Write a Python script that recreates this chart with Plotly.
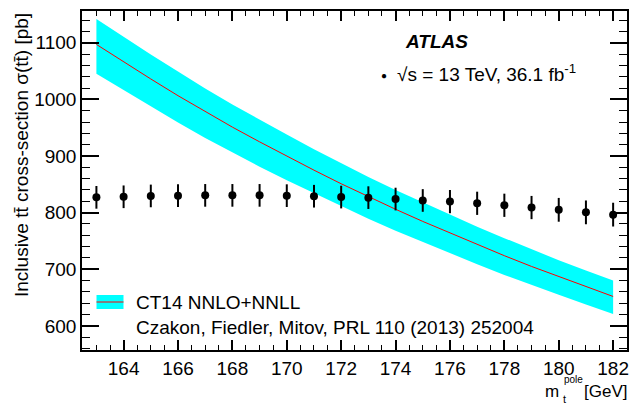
import plotly.graph_objects as go

# top-quark pole mass points (GeV)
mass = [163, 164, 165, 166, 167, 168, 169, 170, 171, 172,
        173, 174, 175, 176, 177, 178, 179, 180, 181, 182]

# CT14 NNLO+NNLL prediction (pb): central, upper and lower edge of band
theo_central = [1097, 1066, 1036, 1006.5, 978, 951, 925, 899.5, 875, 851,
                828, 806, 784.5, 764, 743.5, 724, 705, 687, 669, 652]
theo_upper = [1142, 1110, 1079, 1049, 1019, 991, 964, 938, 912, 887,
              863, 840, 818, 796, 775, 755, 735, 716, 698, 680]
theo_lower = [1045, 1016, 987, 959, 932, 906, 881, 857, 834, 811,
              789, 768, 748, 728, 709, 690, 672, 655, 638, 621]

# measured cross-section vs assumed mass (pb) and total uncertainty
meas = [827, 828, 829.5, 830, 830.5, 830.5, 830.5, 830, 829, 827.5,
        826.5, 824, 821.5, 819.5, 816.5, 813, 809, 805, 800.5, 796.5]
meas_err = [20, 20, 20, 20, 20, 20, 20, 20, 20, 20,
            20, 20, 20, 20.5, 20.5, 20.5, 20.5, 21, 21, 21]

FONT = "Liberation Sans, Arial, Helvetica, sans-serif"
FS = 19
W, H = 629, 412
X0, X1, Y0, Y1 = 82, 627, 11, 350   # plot frame in pixels
L, R, T, B = X0, W - X1, Y0, H - Y1


def px(x):  # pixel -> paper x
    return (x - X0) / (X1 - X0)


def py(y):  # pixel -> paper y
    return (Y1 - y) / (Y1 - Y0)


fig = go.Figure()

# uncertainty band
fig.add_trace(go.Scatter(x=mass, y=theo_lower, mode="lines",
                         line=dict(width=0, color="#00ffff"),
                         showlegend=False, hoverinfo="skip"))
fig.add_trace(go.Scatter(x=mass, y=theo_upper, mode="lines",
                         line=dict(width=0, color="#00ffff"),
                         fill="tonexty", fillcolor="#00ffff",
                         showlegend=False))
# central prediction
fig.add_trace(go.Scatter(x=mass, y=theo_central, mode="lines",
                         line=dict(width=1, color="#ff0000"),
                         showlegend=False))
# measurement
fig.add_trace(go.Scatter(x=mass, y=meas, mode="markers",
                         marker=dict(size=8, color="black"),
                         error_y=dict(type="data", array=meas_err,
                                      thickness=2, width=0, color="black"),
                         showlegend=False))

axis_common = dict(
    showline=True, linecolor="black", linewidth=1.5, mirror="allticks",
    ticks="inside", tickcolor="black", tickwidth=1.5,
    showgrid=False, zeroline=False, automargin=False,
    tickfont=dict(family=FONT, size=FS, color="black"),
)
fig.update_xaxes(range=[162.47, 182.51], dtick=2, tick0=162, ticklen=10,
                 minor=dict(dtick=0.5, ticklen=5, ticks="inside",
                            tickcolor="black", tickwidth=1),
                 **axis_common)
fig.update_yaxes(range=[557.5, 1156], dtick=100, tick0=0, ticklen=17,
                 minor=dict(dtick=20, ticklen=8, ticks="inside",
                            tickcolor="black", tickwidth=1),
                 **axis_common)


def label(text, x, y, xanchor="left", size=FS, **kw):
    return dict(text=text, xref="paper", yref="paper", x=px(x), y=py(y),
                xanchor=xanchor, yanchor=kw.pop("yanchor", "middle"),
                showarrow=False, borderpad=0,
                font=dict(family=FONT, size=size, color="black"), **kw)


ann = [
    # axis titles
    label("Inclusive t\u0074\u0304 cross-section \u03c3(t\u0074\u0304) [pb]",
          21, 12, xanchor="center", yanchor="top", textangle=-90),
    label("[GeV]", 628, 391, xanchor="right", size=17),
    label("m", 560, 391, xanchor="right", size=17),
    label("pole", 563, 380, size=10),
    label("t", 562, 399, size=11),
    # ATLAS label
    label("<b><i>ATLAS</i></b>", 404, 42),
    label("\u25cf", 384, 75, xanchor="center", size=10),
    label("\u221as = 13 TeV, 36.1 fb<sup>-1</sup>", 396, 73),
    # legend text
    label("CT14 NNLO+NNLL", 135, 302),
    label("Czakon, Fiedler, Mitov, PRL 110 (2013) 252004", 135, 327),
]

shapes = [
    dict(type="rect", xref="paper", yref="paper",
         x0=px(96.5), x1=px(123.5), y0=py(309), y1=py(295),
         fillcolor="#00ffff", line=dict(width=0)),
    dict(type="line", xref="paper", yref="paper",
         x0=px(96.5), x1=px(123.5), y0=py(302), y1=py(302),
         line=dict(color="#ff0000", width=1)),
]

fig.update_layout(
    width=W, height=H,
    margin=dict(l=L, r=R, t=T, b=B),
    paper_bgcolor="white", plot_bgcolor="white",
    annotations=ann, shapes=shapes,
    font=dict(family=FONT, color="black"),
)

# drop the default 8px page margin so the figure fills the window exactly
fig.write_html("out.html",
               config={"displayModeBar": False},
               post_script="document.body.style.margin='0px';"
                           "document.body.style.overflow='hidden';")
